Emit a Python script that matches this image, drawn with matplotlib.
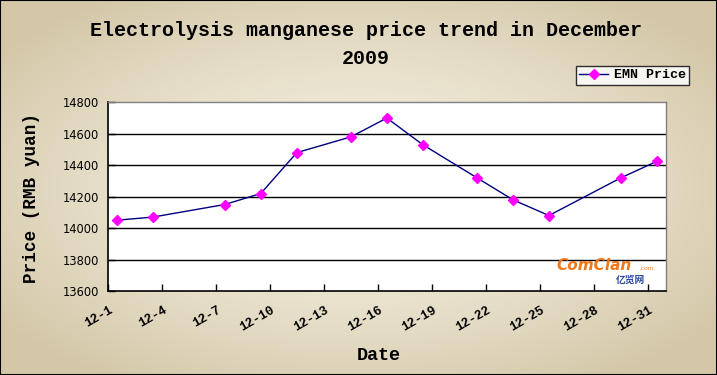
import numpy as np
import matplotlib
matplotlib.use("Agg")
import matplotlib.pyplot as plt
from matplotlib.patches import Rectangle
from matplotlib.transforms import ScaledTranslation

# ---- data ----
days = [1, 3, 7, 9, 11, 14, 16, 18, 21, 23, 25, 29, 31]
prices = [14050, 14070, 14150, 14220, 14480, 14580, 14700, 14530, 14320, 14180, 14080, 14320, 14425]
tick_days = [1, 4, 7, 10, 13, 16, 19, 22, 25, 28, 31]
tick_labels = ["12-1", "12-4", "12-7", "12-10", "12-13", "12-16", "12-19",
               "12-22", "12-25", "12-28", "12-31"]
y_ticks = [13600, 13800, 14000, 14200, 14400, 14600, 14800]

W, H = 717, 375
fig = plt.figure(figsize=(W / 100, H / 100), dpi=100)

# background gradient
bg = fig.add_axes([0, 0, 1, 1], zorder=-10)
yy, xx = np.mgrid[0:H, 0:W]
r = np.sqrt(((xx - W * 0.5) / (W * 0.62)) ** 2 + ((yy - H * 0.5) / (H * 0.62)) ** 2)
r = np.clip(r, 0, 1)
c_in = np.array([0xf3, 0xef, 0xdf]) / 255
c_out = np.array([0xd4, 0xc7, 0xa8]) / 255
img = c_in[None, None, :] * (1 - r[..., None] ** 1.5) + c_out[None, None, :] * (r[..., None] ** 1.5)
bg.imshow(img, aspect="auto", extent=[0, 1, 0, 1], origin="upper")
bg.set_xlim(0, 1); bg.set_ylim(0, 1)
bg.axis("off")
bg.add_patch(Rectangle((0, 0), 1, 1, transform=bg.transAxes, fill=False,
                       edgecolor="black", lw=1.5, clip_on=False))

mono = "Liberation Mono"

ax = fig.add_axes([107.7 / W, 84 / H, 558.3 / W, 188.7 / H])
ax.set_facecolor("white")
ax.plot(days, prices, color="#000080", lw=1.0, marker="D", ms=4.6,
        mfc="#ff00ff", mec="#ff00ff", label="EMN Price", zorder=3)
ax.set_xlim(0.5, 31.5)
ax.set_ylim(13600, 14800)
ax.set_yticks(y_ticks)
ax.set_yticklabels([str(v) for v in y_ticks], fontsize=8.3, family="DejaVu Sans")
for v in y_ticks[1:-1]:
    ax.axhline(v, color="black", lw=1.0, zorder=1)

# major ticks at category boundaries, labels at day centers (minor)
ax.set_xticks(np.arange(0.5, 31, 3))
ax.set_xticklabels([])
ax.set_xticks(tick_days, minor=True)
ax.set_xticklabels(tick_labels, minor=True)
ax.tick_params(axis="x", which="major", direction="in", length=5, width=1)
ax.tick_params(axis="x", which="minor", length=0, pad=13)
ax.tick_params(axis="y", direction="in", length=5, width=1, pad=6)
shift = ScaledTranslation(-5 / 100, 0, fig.dpi_scale_trans)
for lab in ax.get_xticklabels(minor=True):
    lab.set_rotation(30)
    lab.set_ha("right")
    lab.set_va("center")
    lab.set_rotation_mode("anchor")
    lab.set_fontfamily(mono)
    lab.set_fontweight("bold")
    lab.set_fontsize(9.2)
    lab.set_transform(lab.get_transform() + shift)

for s in ["left", "bottom"]:
    ax.spines[s].set_color("black")
    ax.spines[s].set_linewidth(1.2)
for s in ["top", "right"]:
    ax.spines[s].set_color("#808080")
    ax.spines[s].set_linewidth(1.0)

# titles/labels
fig.text(366 / W, 1 - 31 / H, "Electrolysis manganese price trend in December",
         ha="center", va="center", family=mono, weight="bold", fontsize=14.4)
fig.text(366 / W, 1 - 58 / H, "2009", ha="center", va="center",
         family=mono, weight="bold", fontsize=14.4)
fig.text(32 / W, 1 - 198 / H, "Price (RMB yuan)", rotation=90, ha="center",
         va="center", family=mono, weight="bold", fontsize=12.7)
fig.text(379 / W, 1 - 355 / H, "Date", ha="center", va="center",
         family=mono, weight="bold", fontsize=13.2)

# legend
leg = fig.legend(handles=ax.get_lines(), labels=["EMN Price"],
                 loc="upper right", bbox_to_anchor=(689 / W, 1 - 65.5 / H),
                 frameon=True, fancybox=False, edgecolor="black",
                 prop={"family": mono, "weight": "bold", "size": 9.6},
                 handlelength=2.2, handletextpad=0.4, borderpad=0.25,
                 borderaxespad=0)
leg.get_frame().set_linewidth(1.0)
leg.get_frame().set_facecolor("white")

# watermark
fig.text(556 / W, 1 - 265 / H, "ComClan", color="#f07818",
         fontsize=11, weight="bold", style="italic", family="DejaVu Sans",
         ha="left", va="center", zorder=5)
fig.text(640 / W, 1 - 268 / H, ".com", color="#f07818",
         fontsize=4.2, style="italic", family="DejaVu Sans",
         ha="left", va="center", zorder=5)
fig.text(630 / W, 1 - 280 / H, "亿览网", color="#2a4aa0",
         fontsize=7, weight="bold", family=["Noto Sans CJK SC", "DejaVu Sans"],
         ha="center", va="center", zorder=5)

fig.savefig("out.png", dpi=100)
